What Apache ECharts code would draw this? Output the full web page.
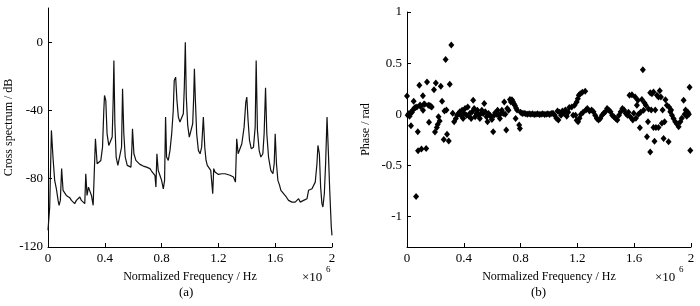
<!DOCTYPE html>
<html>
<head>
<meta charset="utf-8">
<script src="https://cdn.jsdelivr.net/npm/echarts@6/dist/echarts.min.js"></script>
<style>
  html, body { margin: 0; padding: 0; background: #fff; }
  #chart { width: 700px; height: 306px; }
</style>
</head>
<body>
<div id="chart"></div>
<script>
// (a) cross spectrum, frequency in units of 1e6 Hz
var specFreq = [0, 0.012, 0.024, 0.035, 0.047, 0.059, 0.071, 0.078, 0.087, 0.096,
  0.106, 0.118, 0.129, 0.141, 0.153, 0.165, 0.176, 0.188, 0.2, 0.212,
  0.224, 0.235, 0.247, 0.259, 0.266, 0.275, 0.285, 0.294, 0.306, 0.318,
  0.327, 0.334, 0.346, 0.36, 0.372, 0.384, 0.393, 0.398, 0.407, 0.416,
  0.428, 0.44, 0.452, 0.459, 0.464, 0.471, 0.48, 0.492, 0.506, 0.518,
  0.525, 0.534, 0.544, 0.558, 0.572, 0.584, 0.591, 0.595, 0.605, 0.619,
  0.647, 0.671, 0.694, 0.718, 0.729, 0.741, 0.753, 0.76, 0.767, 0.776,
  0.788, 0.8, 0.812, 0.821, 0.828, 0.835, 0.847, 0.859, 0.871, 0.882,
  0.889, 0.899, 0.908, 0.918, 0.929, 0.941, 0.953, 0.96, 0.967, 0.974,
  0.984, 0.995, 1.007, 1.019, 1.026, 1.031, 1.038, 1.047, 1.059, 1.071,
  1.082, 1.094, 1.104, 1.113, 1.122, 1.136, 1.146, 1.153, 1.16, 1.167,
  1.176, 1.188, 1.2, 1.212, 1.224, 1.235, 1.247, 1.259, 1.282, 1.306,
  1.32, 1.329, 1.339, 1.348, 1.365, 1.381, 1.393, 1.4, 1.409, 1.419,
  1.431, 1.447, 1.459, 1.466, 1.475, 1.487, 1.499, 1.513, 1.522, 1.532,
  1.541, 1.553, 1.569, 1.584, 1.593, 1.6, 1.609, 1.619, 1.631, 1.64,
  1.659, 1.678, 1.694, 1.706, 1.718, 1.729, 1.741, 1.753, 1.765, 1.776,
  1.788, 1.8, 1.812, 1.824, 1.835, 1.847, 1.859, 1.871, 1.882, 1.894,
  1.901, 1.911, 1.92, 1.929, 1.936, 1.946, 1.955, 1.965, 1.974, 1.984,
  1.995, 2.0];
var specDb = [-110.2, -96.6, -51.7, -67.3, -81, -85.9, -92.7, -95.6, -92.7, -74.1,
  -86.8, -87.8, -89.8, -90.7, -91.1, -92.7, -91.7, -94.6, -92.7, -91.7,
  -90.7, -92.7, -93.7, -94.6, -77.1, -89.8, -84.9, -83.9, -89.8, -95.6,
  -94.6, -56.6, -71.2, -71.6, -69.3, -61.5, -40, -31.2, -34.1, -53.7,
  -60.5, -61.5, -55.6, -34.1, -10.7, -47.8, -67.3, -72.2, -71.2, -61.5,
  -27.3, -53.7, -67.3, -72.2, -72.2, -73.2, -61.5, -50.7, -65.4, -69.3,
  -71.6, -72.6, -73.2, -74.1, -75.5, -74.7, -78, -84.9, -65.4, -75.1,
  -78, -81, -85.9, -81, -43.9, -67.3, -69.3, -63.4, -53.7, -40,
  -22.4, -20.5, -34.1, -43.9, -46.8, -46.8, -42, -26.3, 0, -32.2,
  -48.8, -55.6, -54.6, -47.8, -32.2, -15.6, -34.1, -53.7, -63.4, -65.4,
  -61.5, -43.9, -61.5, -69.3, -72.2, -73.2, -75.1, -75.1, -88.8, -74.1,
  -76.1, -77.1, -77.5, -76.7, -77.1, -76.5, -77.1, -77.5, -78, -79,
  -82, -56.6, -65.4, -64.4, -59.5, -49.8, -35.1, -32.2, -45.9, -57.6,
  -62.4, -61.5, -49.8, -10.7, -51.7, -63.4, -67.3, -65.4, -53.7, -26.7,
  -53.7, -67.3, -75.1, -77.1, -71.2, -53.7, -71.2, -81, -83.9, -86.8,
  -88.8, -90.7, -92.7, -91.7, -93.7, -94.6, -93.7, -92.7, -91.7, -93.7,
  -92.7, -92.7, -93.7, -91.7, -86.8, -87.8, -85.9, -84.9, -82, -71.2,
  -60.5, -65.4, -84.9, -94.6, -96.6, -88.8, -71.2, -43.9, -63.4, -86.8,
  -108.3, -113.2];

// (b) phase scatter
var phaseFreq = [0, 0.005, 0.012, 0.018, 0.024, 0.028, 0.035, 0.041, 0.047, 0.053,
  0.059, 0.064, 0.07, 0.076, 0.078, 0.087, 0.092, 0.095, 0.102, 0.112,
  0.113, 0.12, 0.125, 0.135, 0.141, 0.15, 0.155, 0.16, 0.167, 0.174,
  0.19, 0.197, 0.203, 0.21, 0.216, 0.222, 0.23, 0.238, 0.247, 0.259,
  0.264, 0.272, 0.278, 0.282, 0.294, 0.301, 0.312,
  0.322, 0.332, 0.344, 0.353, 0.362, 0.372, 0.379, 0.388, 0.395, 0.402,
  0.409, 0.419, 0.428, 0.435, 0.442, 0.452, 0.459, 0.466, 0.473, 0.48,
  0.489, 0.496, 0.504, 0.513, 0.52, 0.527, 0.536, 0.544, 0.551, 0.56,
  0.567, 0.574, 0.584, 0.591, 0.598, 0.607, 0.614, 0.621, 0.631, 0.638,
  0.645, 0.654, 0.661, 0.668, 0.678, 0.685, 0.692, 0.699, 0.706, 0.715,
  0.725, 0.732, 0.739, 0.745, 0.752, 0.76, 0.765, 0.768, 0.775, 0.79,
  0.795, 0.8,
  0.812, 0.824, 0.836, 0.848, 0.86, 0.872, 0.884, 0.896, 0.908, 0.92,
  0.932, 0.944, 0.956, 0.968, 0.98, 0.992, 1.004, 1.016, 1.028, 1.04,
  1.052, 1.06, 1.066, 1.075, 1.085, 1.095, 1.105, 1.115, 1.125, 1.135,
  1.143, 1.16, 1.17,
  1.18, 1.187, 1.195, 1.195, 1.203, 1.205, 1.21, 1.215, 1.22, 1.225,
  1.235, 1.24, 1.255, 1.26, 1.27, 1.285,
  1.3, 1.313, 1.325, 1.337, 1.349, 1.361, 1.373, 1.385, 1.397, 1.409,
  1.421, 1.433, 1.445, 1.457, 1.469, 1.481, 1.493, 1.505, 1.517, 1.529,
  1.541, 1.553,
  1.56, 1.567, 1.575, 1.584, 1.59, 1.597, 1.607, 1.612, 1.619, 1.626,
  1.63, 1.64, 1.645, 1.654, 1.661, 1.666, 1.673, 1.682, 1.69, 1.697,
  1.701, 1.713, 1.713, 1.72, 1.725, 1.736, 1.736, 1.743, 1.748, 1.753,
  1.76, 1.771, 1.771, 1.78, 1.788, 1.795, 1.8, 1.807, 1.814, 1.82,
  1.83, 1.842, 1.845, 1.854, 1.86, 1.866, 1.877, 1.889, 1.901, 1.913,
  1.925, 1.935, 1.948, 1.955, 1.962, 1.97, 1.978, 1.985, 1.99, 1.995];
var phaseRad = [0.178, -0.01, 0.005, -0.02, 0.013, -0.114, 0.02, 0.04, 0.127, 0.06,
  0.065, -0.805, 0.07, -0.172, -0.357, 0.282, 0.09, 0.075, -0.34, 0.18,
  0.039, 0.1, 0.097, -0.337, 0.315, 0.088, -0.08, 0.085, 0.078, 0.07,
  0.24, -0.175, 0.305, -0.13, -0.1, -0.026, -0.068, 0.273, 0.127, -0.247,
  0.03, 0.534, 0.04, -0.197, -0.262, 0.292, 0.677,
  0.01, -0.075, -0.042, -0.01, 0.006, 0.023, -0.01, 0.039, -0.042, 0.006,
  0.055, -0.01, 0.071, -0.019, 0.006, -0.042, 0.023, 0.136, 0.055, -0.026,
  0.006, 0.039, -0.01, -0.042, 0.006, 0.039, 0.006, 0.104, 0.023, -0.026,
  -0.075, 0.006, -0.01, -0.026, -0.052, -0.172, -0.01, 0.013, 0, 0.039,
  -0.01, -0.042, 0.006, 0.039, 0.006, 0.12, 0, -0.156, 0.055, 0.039,
  0.143, 0.12, 0.14, 0.125, 0.105, 0.085, -0.042, 0.06, 0.04, -0.107,
  -0.14, 0.02,
  0.006, 0.01, 0.005, 0, 0.005, 0, 0.003, -0.003, 0, 0.003,
  -0.002, 0, 0.004, -0.003, 0, 0.004, -0.004, 0.006, 0.01, -0.01,
  -0.04, 0.03, -0.058, 0.02, -0.01, 0.03, 0.01, 0.04, -0.02, 0.02,
  0.065, 0.07, -0.01,
  0.088, -0.01, 0.12, -0.06, 0.15, -0.075, 0.185, -0.04, 0.2, 0,
  0.215, 0.02, 0.225, 0.04, 0.055, 0.03,
  0.04, 0.023, -0.01, -0.042, -0.058, -0.042, -0.01, 0.01, 0.023, 0.055,
  0.04, 0.023, -0.01, -0.026, -0.042, -0.058, -0.01, 0.023, 0.055, 0.04,
  0.006, -0.01,
  0.02, 0.185, -0.03, 0.19, -0.058, 0.01, 0.168, -0.04, 0.088, 0.136,
  0, -0.133, 0.02, 0.143, 0.435, 0.039, 0.11, 0.088, -0.22, -0.075,
  0.05, -0.37, 0.21, 0.04, 0.2, -0.13, 0.217, -0.265, 0.04, -0.13,
  0.185, -0.13, 0.168, 0.23, 0.168, -0.09, 0.04, -0.237, -0.075, 0.14,
  0.088, -0.27, 0.07, 0.023, 0.04, -0.01, -0.042, -0.075, -0.097, -0.123,
  -0.075, -0.04, 0.136, 0, 0.04, -0.02, 0.02, 0, 0.263, -0.355];

var freqTicks = [0, 0.4, 0.8, 1.2, 1.6, 2];
var dbTicks = [-120, -80, -40, 0];
var radTicks = [-1, -0.5, 0, 0.5, 1];

var serif = "'Liberation Serif', 'Times New Roman', serif";
var ink = '#000';

function zip(xs, ys) {
  var out = [];
  for (var i = 0; i < xs.length; i++) out.push([xs[i], ys[i]]);
  return out;
}

function freqAxis(gridIndex) {
  return {
    type: 'value',
    gridIndex: gridIndex,
    min: 0,
    max: 2,
    name: 'Normalized Frequency / Hz',
    nameLocation: 'middle',
    nameGap: 24,
    nameTextStyle: { color: ink, fontFamily: serif, fontSize: 12 },
    axisLine: { show: true, onZero: false, lineStyle: { color: ink, width: 1 } },
    axisTick: { show: true, inside: true, length: 4, customValues: freqTicks, lineStyle: { color: ink } },
    axisLabel: { color: ink, fontFamily: serif, fontSize: 13, margin: 5, customValues: freqTicks },
    splitLine: { show: false }
  };
}

function valueAxis(gridIndex, min, max, ticks, name, gap) {
  return {
    type: 'value',
    gridIndex: gridIndex,
    min: min,
    max: max,
    name: name,
    nameLocation: 'middle',
    nameGap: gap,
    nameTextStyle: { color: ink, fontFamily: serif, fontSize: 12 },
    axisLine: { show: true, onZero: false, lineStyle: { color: ink, width: 1 } },
    axisTick: { show: true, inside: true, length: 4, customValues: ticks, lineStyle: { color: ink } },
    axisLabel: { color: ink, fontFamily: serif, fontSize: 13, margin: 5, customValues: ticks },
    splitLine: { show: false }
  };
}

var option = {
  animation: false,
  backgroundColor: '#fff',
  grid: [
    { left: 48, top: 8, width: 284, height: 239 },
    { left: 407, top: 12, width: 284, height: 235 }
  ],
  xAxis: [freqAxis(0), freqAxis(1)],
  yAxis: [
    valueAxis(0, -120, 20, dbTicks, 'Cross spectrum / dB', 31),
    valueAxis(1, -1.3, 1, radTicks, 'Phase / rad', 35)
  ],
  series: [
    {
      type: 'line',
      xAxisIndex: 0,
      yAxisIndex: 0,
      data: zip(specFreq, specDb),
      showSymbol: false,
      lineStyle: { color: '#111', width: 1.2 }
    },
    {
      type: 'scatter',
      xAxisIndex: 1,
      yAxisIndex: 1,
      data: zip(phaseFreq, phaseRad),
      symbol: 'diamond',
      symbolSize: [6, 7],
      itemStyle: { color: '#000', opacity: 1 }
    }
  ],
  graphic: [
    { type: 'text', left: 302, top: 271, style: { text: '×10', fill: ink, font: '13px ' + serif } },
    { type: 'text', left: 326, top: 265, style: { text: '6', fill: ink, font: '9px ' + serif } },
    { type: 'text', left: 655, top: 271, style: { text: '×10', fill: ink, font: '13px ' + serif } },
    { type: 'text', left: 679, top: 265, style: { text: '6', fill: ink, font: '9px ' + serif } },
    { type: 'text', left: 179, top: 286, style: { text: '(a)', fill: ink, font: '13px ' + serif } },
    { type: 'text', left: 531, top: 286, style: { text: '(b)', fill: ink, font: '13px ' + serif } }
  ]
};

var chart = echarts.init(document.getElementById('chart'));
chart.setOption(option);
</script>
</body>
</html>
